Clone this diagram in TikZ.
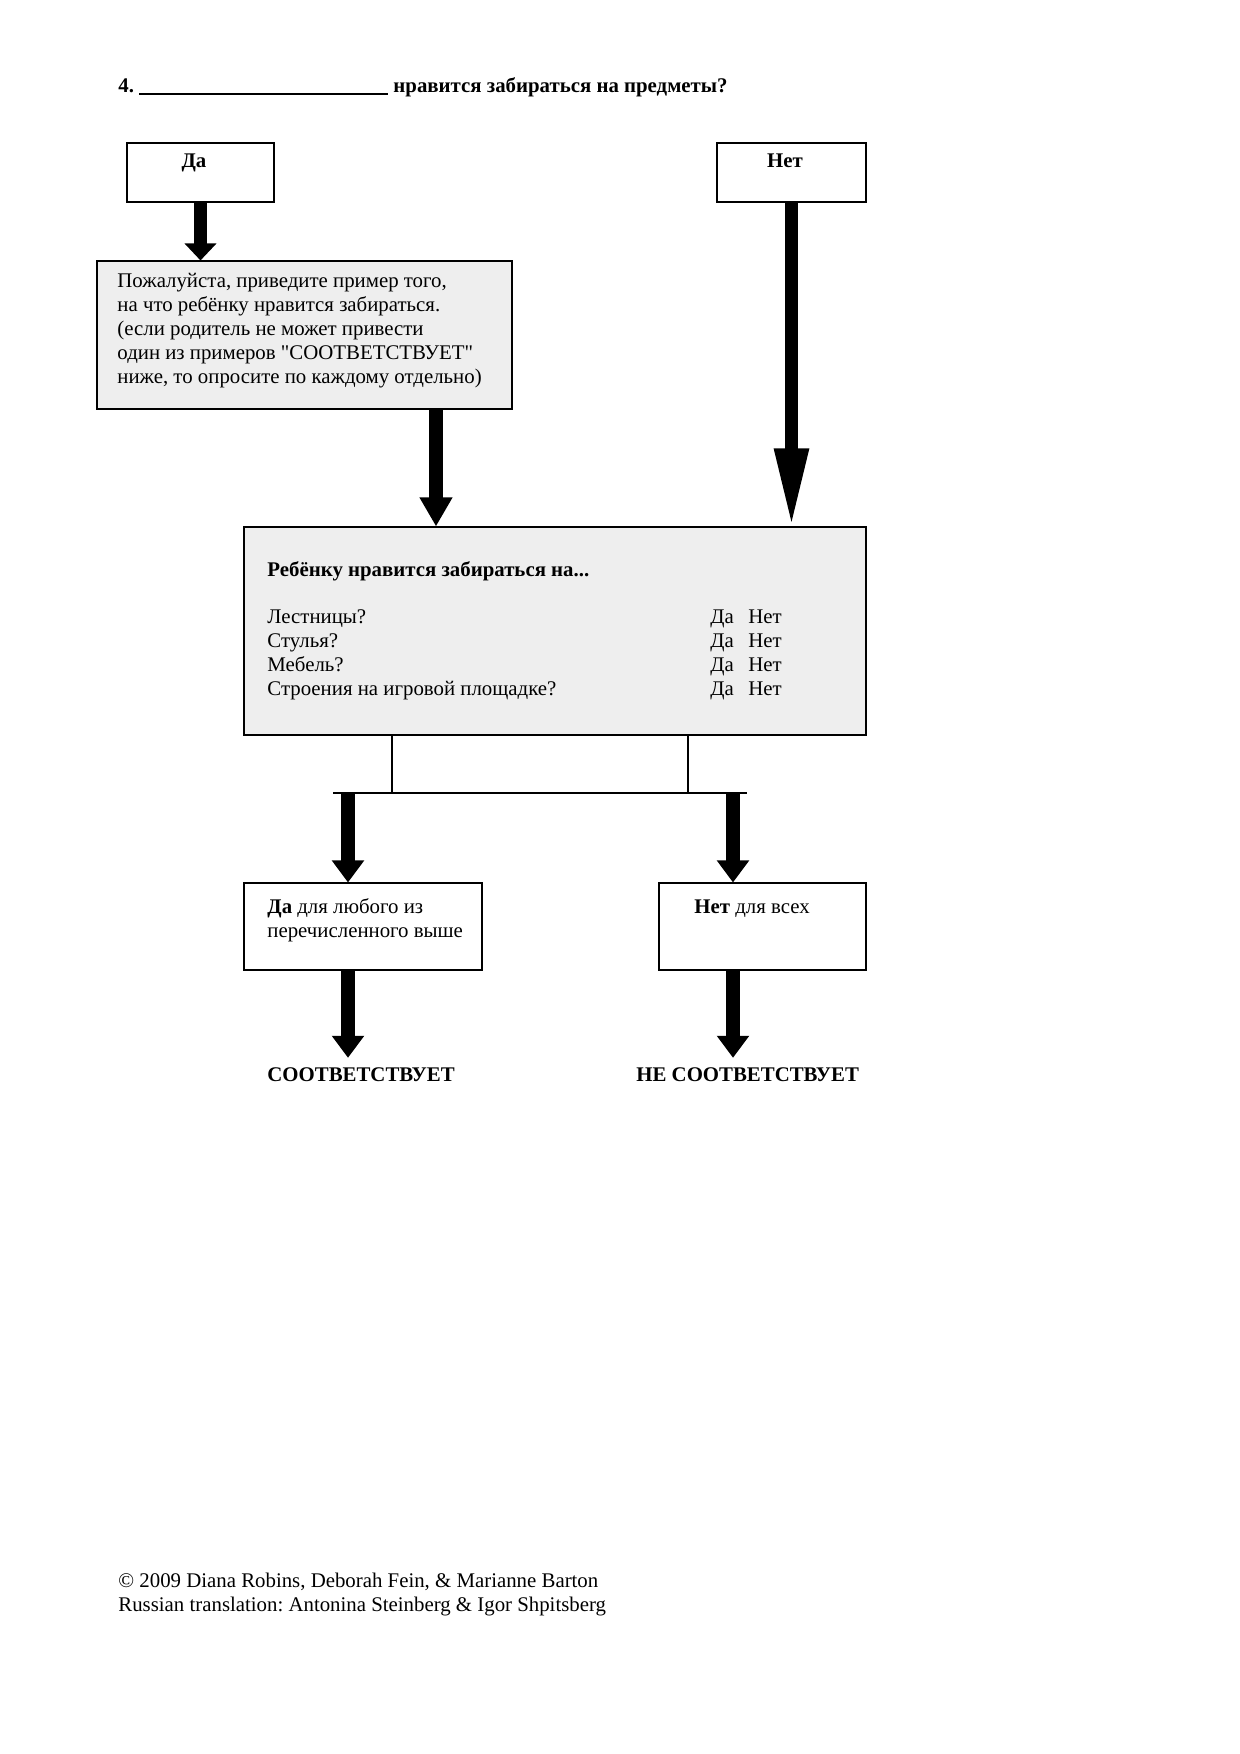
\documentclass[tikz,border=0pt]{standalone}
\usepackage{fontspec}
\setmainfont{Liberation Serif}
\usetikzlibrary{arrows.meta,fit}
\definecolor{boxgray}{HTML}{EEEEEE}
\frenchspacing

\begin{document}
\begin{tikzpicture}[x=0.48pt, y=-0.48pt,
    txt/.style={font=\fontsize{10}{11.5}\selectfont, inner sep=0pt},
    boldtxt/.style={txt, font=\fontsize{10}{11.5}\selectfont\bfseries},
    plainbox/.style={draw, line width=0.5pt, inner sep=0pt},
    graybox/.style={plainbox, fill=boxgray},
    fat/.style={line width=6.7pt, -{Triangle[width=14.9pt, length=#1]}},
    fat/.default=10.6pt]%
    \useasboundingbox (0,0) rectangle (1240,1754);
    % question
    \node[boldtxt, anchor=base west] (title) at (118,92)
        {4. \rule[-1.2pt]{119.5pt}{0.6pt} нравится забираться на предметы?};
    % first answers
    \node[plainbox, fit={(127,143) (274,202)}] (yes) {};
    \node[boldtxt, anchor=base] at (194,167) {Да};
    \node[plainbox, fit={(717,143) (866,202)}] (no) {};
    \node[boldtxt, anchor=base] at (785,167) {Нет};
    % ask for an example (base = last line)
    \node[graybox, fit={(97,261) (512,409)}] (ask) {};
    \node[txt, anchor=base west, align=left] (asktext) at (117,383)
        {Пожалуйста, приведите пример того,\\на что ребёнку нравится забираться.\\(если родитель не может привести\\один из примеров \textquotedbl СООТВЕТСТВУЕТ\textquotedbl\\ниже, то опросите по каждому отдельно)};
    % list of things
    \node[graybox, fit={(244,527) (866,735)}] (big) {};
    \node[boldtxt, anchor=base west] (bigtext) at (267,576) {Ребёнку нравится забираться на...};
    \foreach \thing [count=\i] in {Лестницы?, Стулья?, Мебель?, Строения на игровой площадке?} {
        \node[txt, anchor=base west] (thing\i) at (267,599+24*\i) {\thing};
        \node[txt, anchor=base west] at (710,599+24*\i) {Да};
        \node[txt, anchor=base west] at (748,599+24*\i) {Нет};
    }
    % outcomes
    \node[plainbox, fit={(244,883) (482,970)}] (any) {};
    \node[txt, anchor=base west, align=left] at (267,937) {\textbf{Да} для любого из\\перечисленного выше};
    \node[plainbox, fit={(659,883) (866,970)}] (none) {};
    \node[txt, anchor=base west] at (694,913) {\textbf{Нет} для всех};
    \node[boldtxt, anchor=base west, inner ysep=4.3pt] (match) at (267,1081) {СООТВЕТСТВУЕТ};
    \node[boldtxt, anchor=base west, inner ysep=4.3pt] (nomatch) at (636,1081) {НЕ СООТВЕТСТВУЕТ};
    % footer
    \node[txt, anchor=base west, align=left] (credits) at (118,1611)
        {© 2009 Diana Robins, Deborah Fein, \& Marianne Barton\\Russian translation: Antonina Steinberg \& Igor Shpitsberg};
    % arrows
    \coordinate (drop) at (436,0);
    \coordinate (jl) at (392,793);
    \coordinate (jr) at (688,793);
    \coordinate (hl) at (333,793);
    \coordinate (hr) at (747,793);
    \coordinate (al) at (348,793);
    \coordinate (ar) at (733,793);
    \draw[fat=8.2pt] (yes.south) -- (yes.south |- ask.north);
    \draw[fat=39pt] (no.south) -- ([yshift=-1.5pt]no.south |- big.north);
    \draw[fat=14pt] (ask.south -| drop) -- (big.north -| drop);
    \draw[line width=0.5pt] (big.south -| jl) -- (jl);
    \draw[line width=0.5pt] (big.south -| jr) -- (jr);
    \draw[line width=0.5pt] (hl) -- (hr);
    \draw[fat] (al) -- (al |- any.north);
    \draw[fat] (ar) -- (ar |- none.north);
    \draw[fat] (any.south -| al) -- (al |- match.north);
    \draw[fat] (none.south -| ar) -- (ar |- nomatch.north);
\end{tikzpicture}
\end{document}
